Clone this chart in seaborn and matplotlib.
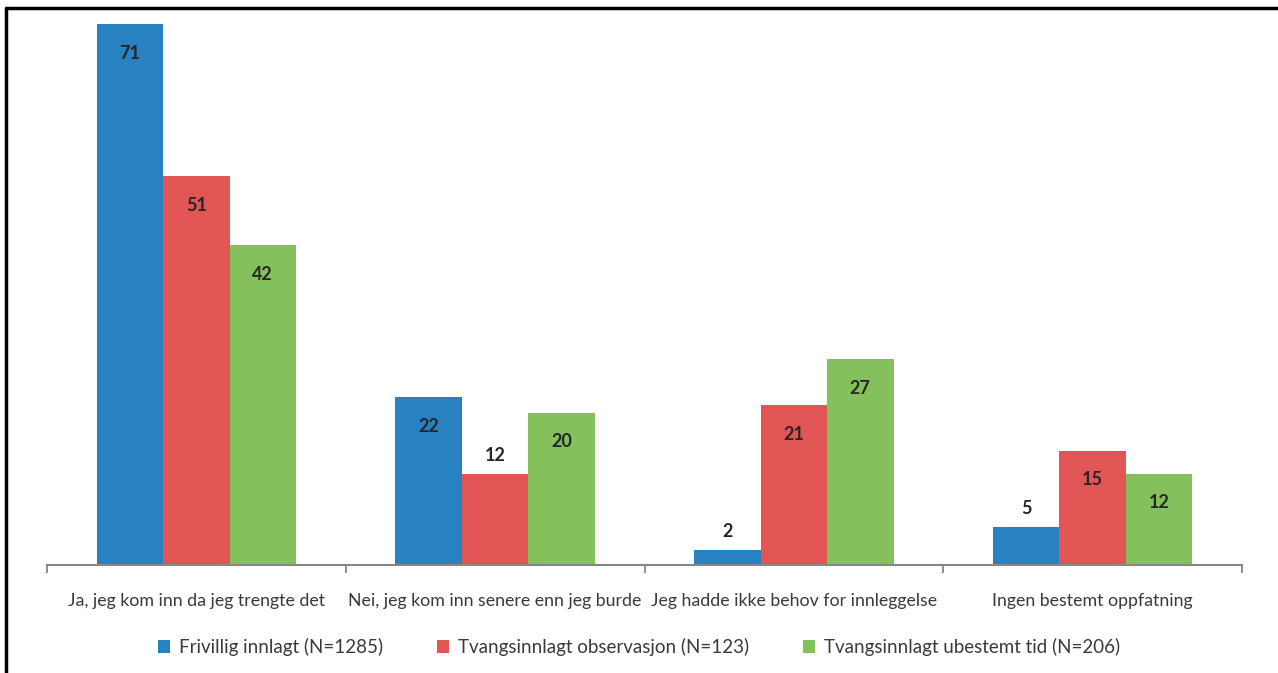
import matplotlib
matplotlib.use("Agg")
import matplotlib.pyplot as plt
from matplotlib.lines import Line2D
from matplotlib.patches import Patch
import seaborn as sns
import pandas as pd

categories = [
    "Ja, jeg kom inn da jeg trengte det",
    "Nei, jeg kom inn senere enn jeg burde",
    "Jeg hadde ikke behov for innleggelse",
    "Ingen bestemt oppfatning",
]
series = [
    "Frivillig innlagt (N=1285)",
    "Tvangsinnlagt observasjon (N=123)",
    "Tvangsinnlagt ubestemt tid (N=206)",
]
frivillig = [71, 22, 2, 5]
tvang_obs = [51, 12, 21, 15]
tvang_ubestemt = [42, 20, 27, 12]
colors = ["#2882C2", "#E15655", "#84C15D"]

# labels drawn above the bar instead of inside its top
outside_labels = {(0, 2), (0, 3), (1, 1)}

values = [frivillig, tvang_obs, tvang_ubestemt]
df = pd.DataFrame(
    [(c, s, v) for s, vals in zip(series, values) for c, v in zip(categories, vals)],
    columns=["kategori", "gruppe", "prosent"],
)

sns.set_theme(style="white")
plt.rcParams["font.family"] = ["Lato", "DejaVu Sans"]

fig = plt.figure(figsize=(12.78, 6.73), dpi=100)
ax = fig.add_axes([47 / 1278, 1 - 565 / 673, (1242 - 47) / 1278, (565 - 24) / 673])

sns.barplot(
    data=df, x="kategori", y="prosent", hue="gruppe",
    order=categories, hue_order=series, palette=colors,
    width=0.667, saturation=1, ax=ax, legend=False, errorbar=None,
    linewidth=0,
)

for si, cont in enumerate(ax.containers):
    for ci, bar in enumerate(cont):
        v = values[si][ci]
        xc = bar.get_x() + bar.get_width() / 2
        if (si, ci) in outside_labels:
            off = 13
        else:
            off = -21
        ax.annotate(
            f"{v}", (xc, v), xytext=(0, off), textcoords="offset points",
            ha="center", va="center", fontsize=13, fontweight="bold",
            color="#262626",
        )

ax.set_ylim(0, 71)
ax.set_xlim(-0.5, len(categories) - 0.5)
ax.set_xlabel("")
ax.set_ylabel("")
ax.set_yticks([])
for side in ["top", "right", "left"]:
    ax.spines[side].set_visible(False)
ax.spines["bottom"].set_color("#868686")
ax.spines["bottom"].set_linewidth(1.5)

# category boundary ticks
ax.set_xticks([i - 0.5 for i in range(len(categories) + 1)], minor=True)
ax.tick_params(axis="x", which="minor", direction="out", length=6,
               width=1.3, color="#868686", bottom=True)
ax.tick_params(axis="x", which="major", length=0, pad=20,
               labelsize=12.8, labelcolor="#3a3a3a")
ax.set_xticks(range(len(categories)))
ax.set_xticklabels(categories)

handles = [Patch(facecolor=c, edgecolor="none") for c in colors]
fig.legend(
    handles, series, loc="center", bbox_to_anchor=(0.5, 1 - 647 / 673),
    ncol=3, frameon=False, fontsize=13.5, handlelength=0.65, handleheight=0.65,
    handletextpad=0.45, columnspacing=2.9, labelcolor="#3a3a3a",
)

# frame lines along the top and left edges
fig.add_artist(Line2D([5.5 / 1278, 1], [1 - 7.5 / 673, 1 - 7.5 / 673],
                      transform=fig.transFigure, color="black", linewidth=2.5))
fig.add_artist(Line2D([5.5 / 1278, 5.5 / 1278], [0, 1 - 7.5 / 673],
                      transform=fig.transFigure, color="black", linewidth=2.5))

fig.savefig("out.png", dpi=100, facecolor="white")
